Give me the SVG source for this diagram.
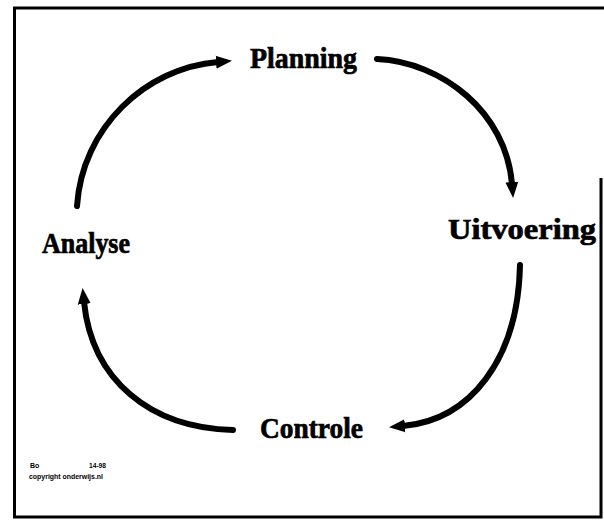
<svg xmlns="http://www.w3.org/2000/svg" width="604" height="520" viewBox="0 0 604 520">
<style>
.lbl{font-family:"Liberation Serif","Times New Roman",serif;font-weight:bold;font-size:30px;fill:#000;stroke:#000;stroke-width:0.7}
.tiny{font-family:"Liberation Sans",Arial,sans-serif;font-weight:bold;font-size:7px;fill:#000}
.arc{fill:none;stroke:#000;stroke-width:6;stroke-linecap:round}
.frame{fill:none;stroke:#000;stroke-width:3}
</style>
<defs>
<marker id="ah" markerUnits="userSpaceOnUse" markerWidth="18" markerHeight="16" refX="2" refY="8" orient="auto">
<path d="M0,1.5 L16,8 L0,14.5 Z" fill="#000"/>
</marker>
</defs>
<rect width="604" height="520" fill="#fff"/>
<g id="frame">
<path class="frame" d="M14.5,518 L14.5,8 L604,8"/>
<path class="frame" d="M13,517 L601,517 L601,178"/>
</g>
<g id="connectors">
<path class="arc" d="M77,206 C82,128 145,68 218,62" marker-end="url(#ah)"/>
<path class="arc" d="M377,59 C442,62 506,112 512,184" marker-end="url(#ah)"/>
<path class="arc" d="M520,265 C518,360 470,420 403,426" marker-end="url(#ah)"/>
<path class="arc" d="M233,430 C150,428 92,380 84,302" marker-end="url(#ah)"/>
</g>
<g id="planning"><text class="lbl" x="250" y="68" textLength="107" lengthAdjust="spacingAndGlyphs">Planning</text></g>
<g id="uitvoering"><text class="lbl" x="448" y="239" textLength="148" lengthAdjust="spacingAndGlyphs">Uitvoering</text></g>
<g id="controle"><text class="lbl" x="260" y="438" textLength="103" lengthAdjust="spacingAndGlyphs">Controle</text></g>
<g id="analyse"><text class="lbl" x="42" y="253" textLength="88" lengthAdjust="spacingAndGlyphs">Analyse</text></g>
<g id="footnote">
<text class="tiny" x="30" y="468">Bo</text>
<text class="tiny" x="89" y="468" textLength="17" lengthAdjust="spacingAndGlyphs">14-98</text>
<text class="tiny" x="29" y="479" textLength="74" lengthAdjust="spacingAndGlyphs">copyright onderwijs.nl</text>
</g>
</svg>
